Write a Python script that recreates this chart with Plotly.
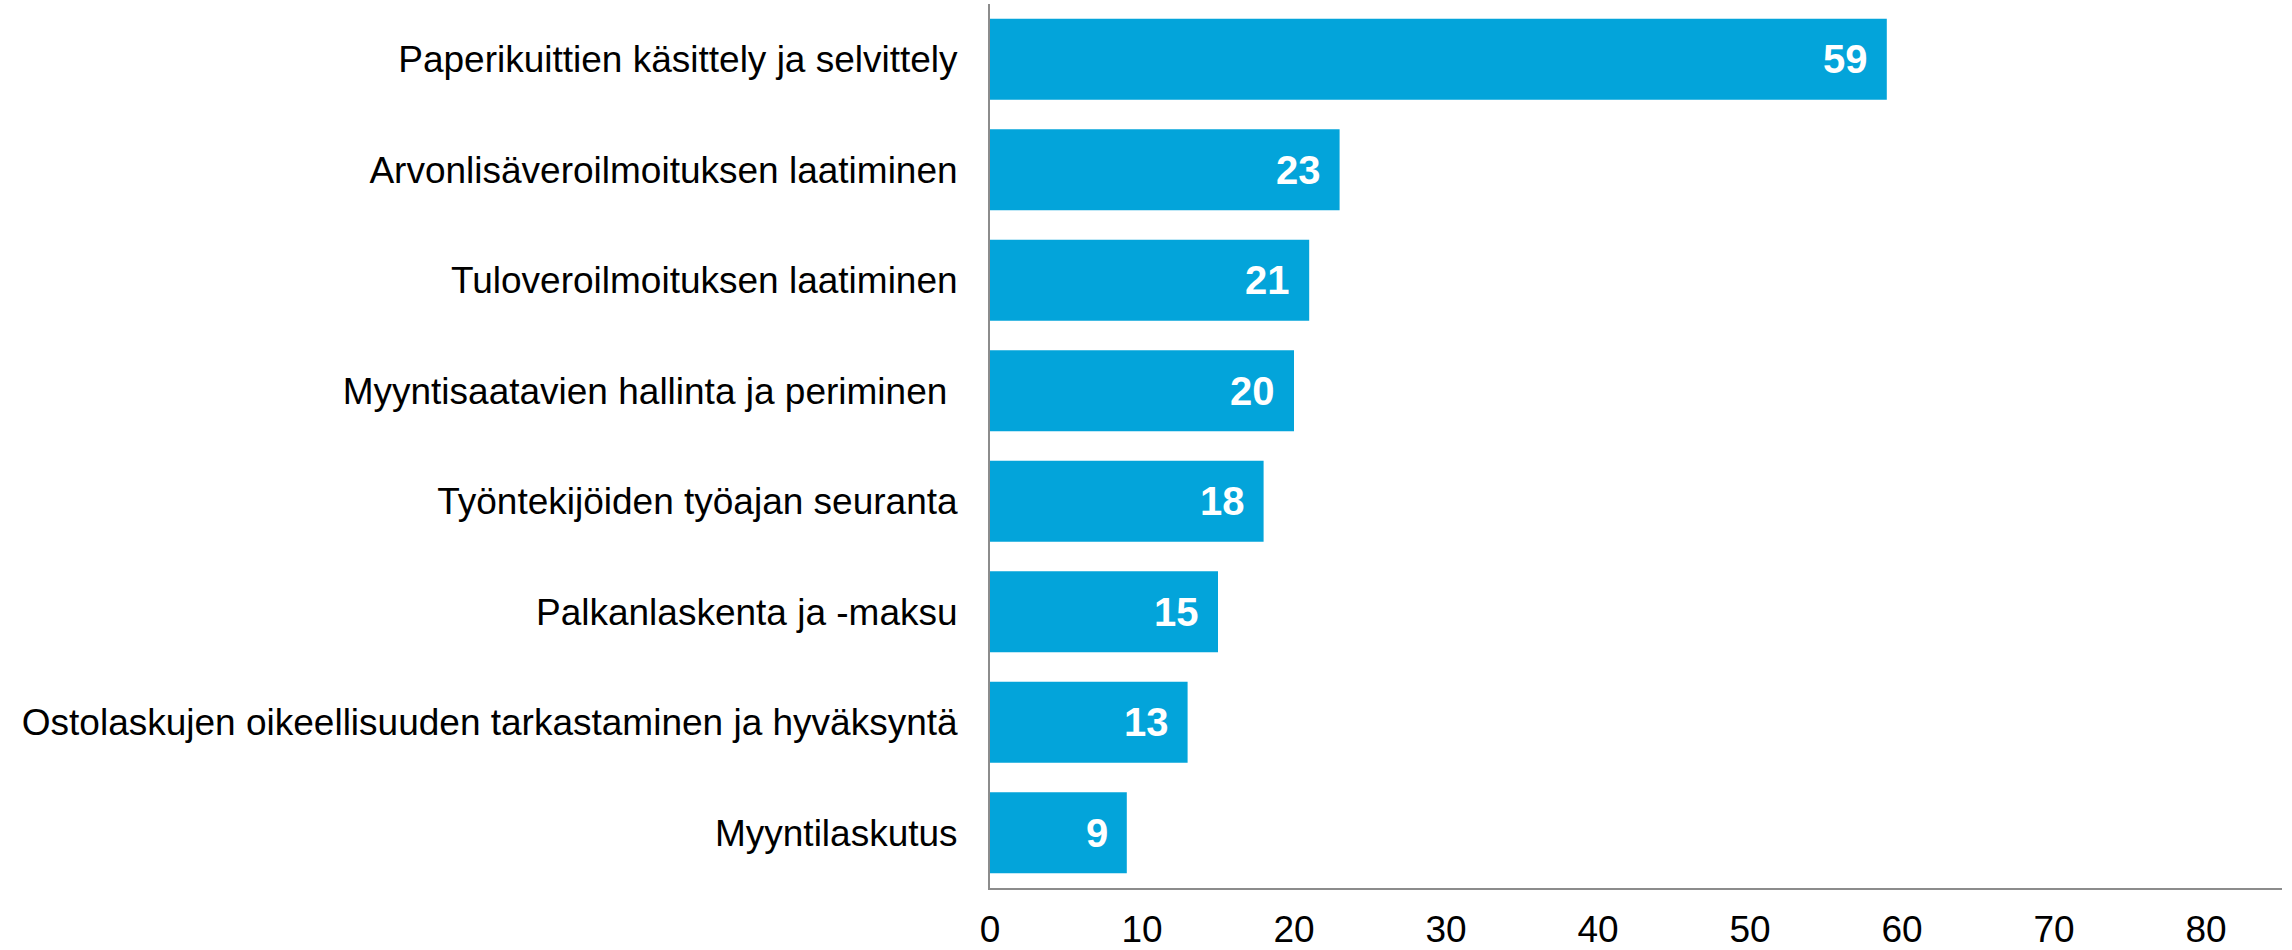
import plotly.graph_objects as go

categories = [
    "Paperikuittien käsittely ja selvittely",
    "Arvonlisäveroilmoituksen laatiminen",
    "Tuloveroilmoituksen laatiminen",
    "Myyntisaatavien hallinta ja periminen ",
    "Työntekijöiden työajan seuranta",
    "Palkanlaskenta ja -maksu",
    "Ostolaskujen oikeellisuuden tarkastaminen ja hyväksyntä",
    "Myyntilaskutus",
]
values = [59, 23, 21, 20, 18, 15, 13, 9]
x_ticks = [0, 10, 20, 30, 40, 50, 60, 70, 80]

FONT = "Liberation Sans, Arial, sans-serif"
BAR_COLOR = "#03A4DA"
AXIS_COLOR = "#8C8C8C"

fig = go.Figure()
fig.add_trace(go.Bar(
    x=values,
    y=categories,
    orientation="h",
    marker=dict(color=BAR_COLOR, line=dict(width=0)),
    hoverinfo="x+y",
))

for c, v in zip(categories, values):
    fig.add_annotation(
        x=v, y=c, xref="x", yref="y",
        text=f"<b>{v}</b>", showarrow=False,
        xanchor="right", yanchor="middle", xshift=-17,
        font=dict(family=FONT, size=40, color="white"),
    )

fig.update_layout(
    width=2292, height=950,
    margin=dict(l=990, r=10, t=4, b=62, autoexpand=False),
    paper_bgcolor="white", plot_bgcolor="white",
    bargap=0.267,
    showlegend=False,
    font=dict(family=FONT, size=37, color="black"),
)
fig.update_xaxes(
    range=[0, 85], tickvals=x_ticks, ticktext=[str(t) for t in x_ticks],
    showgrid=False, zeroline=False, automargin=False,
    showline=True, linecolor=AXIS_COLOR, linewidth=2,
    ticks="", ticklabelstandoff=8,
    tickfont=dict(family=FONT, size=37, color="black"),
)
fig.update_yaxes(
    autorange="reversed", showgrid=False, zeroline=False, automargin=False,
    showline=True, linecolor=AXIS_COLOR, linewidth=2,
    ticks="", ticklabelstandoff=23,
    tickfont=dict(family=FONT, size=37, color="black"),
)

fig.write_html(
    "out.html",
    config={"displayModeBar": False},
    post_script="document.body.style.margin='0px';",
)
